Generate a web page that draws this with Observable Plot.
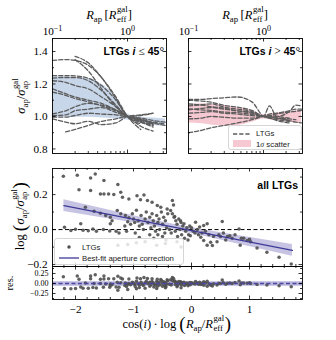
<!DOCTYPE html>
<html><head><meta charset="utf-8">
<script src="https://cdn.jsdelivr.net/npm/d3@7"></script>
<script src="https://cdn.jsdelivr.net/npm/@observablehq/plot@0.6"></script>
<style>
html,body{margin:0;padding:0;background:#fff}
#wrap{position:relative;width:336px;height:340px;overflow:hidden}
#wrap svg{position:absolute;overflow:visible}
.lab{position:absolute;white-space:nowrap;font-family:"Liberation Serif","DejaVu Serif",serif;font-size:12.5px;line-height:1;color:#000}
.lab sub{font-size:0.7em;vertical-align:-0.35em;line-height:1;font-style:normal}
.st{display:inline-block;font-size:0.7em;line-height:1.15;vertical-align:-0.35em;margin-left:0.5px;font-style:normal}
.st span{display:block}
.bp{font-size:1.5em;vertical-align:-0.1em;line-height:1;margin:0 0.5px}
.rot{transform:translate(-50%,-50%) rotate(-90deg)}
.ctr{transform:translate(-50%,0)}
.ann{position:absolute;white-space:nowrap;font-family:"Liberation Sans",Arial,sans-serif;font-weight:bold;font-size:10.5px;line-height:1;text-align:right}
.ann .m{font-family:"Liberation Serif",serif;font-weight:normal;font-size:1.1em}
.leg{position:absolute;background:rgba(255,255,255,0.82);border:1px solid #d6d6d6;border-radius:3px;font-family:"Liberation Sans",Arial,sans-serif;font-size:7.8px;color:#222}
.leg .row{position:absolute;left:0;white-space:nowrap}
</style></head><body><div id="wrap"></div>
<script>
// ---------- data ----------
// top panels: aperture radius grid (R_ap / R_eff)
const rGridLow = [0.1, 0.15, 0.2, 0.3, 0.45, 0.7, 1.0, 1.5, 2.2, 3.2];
const lowIncLines = [
  [1.345, 1.35, 1.345, 1.315, 1.24, 1.11, 1.0, 0.955, null, null],
  [null, null, 1.37, 1.33, 1.24, 1.12, 1.0, 0.92, null, null],
  [null, null, 1.35, 1.28, 1.17, 1.06, 1.0, 0.94, 0.91, null],
  [1.252, 1.252, 1.25, 1.235, 1.19, 1.10, 1.0, 0.965, 0.945, null],
  [1.236, 1.24, 1.24, 1.22, 1.16, 1.07, 1.0, 0.985, 0.96, 0.945],
  [1.22, 1.21, 1.19, 1.17, 1.12, 1.06, 1.0, 0.965, 0.935, null],
  [1.17, 1.14, 1.12, 1.10, 1.08, 1.04, 1.0, 0.975, 0.96, null],
  [1.15, 1.13, 1.11, 1.09, 1.065, 1.035, 1.0, 0.98, 0.965, 0.955],
  [1.016, 1.035, 1.06, 1.08, 1.07, 1.04, 1.0, 0.97, 0.95, null],
  [1.006, 1.01, 1.035, 1.045, 1.055, 1.025, 1.0, 0.99, 0.975, 0.965],
  [0.996, 0.996, 1.006, 1.02, 1.015, 1.01, 1.0, 1.006, 1.02, null],
  [null, 0.905, 0.92, 0.945, 0.97, 0.985, 1.0, 0.98, 0.955, null],
  [0.985, 0.965, 0.955, 0.97, 0.95, 0.96, 1.0, 1.01, 1.02, null]
];
const lowIncBandLo = [0.995, 0.995, 0.995, 0.995, 0.99, 0.985, 0.978, 0.958, 0.945, 0.94];
const lowIncBandHi = [1.245, 1.245, 1.24, 1.235, 1.2, 1.12, 1.015, 0.995, 0.99, 0.985];

const rGridHigh = [0.1, 0.15, 0.2, 0.3, 0.45, 0.7, 1.0, 1.2, 1.5, 2.2, 2.7, 3.2];
const highIncLines = [
  [1.105, 1.105, 1.11, 1.115, 1.12, 1.09, 1.0, 0.99, 0.975, 0.96, null, null],
  [1.10, 1.095, 1.088, 1.068, 1.057, 1.037, 1.0, 0.995, 0.99, 0.975, null, null],
  [1.078, 1.072, 1.078, 1.057, 1.045, 1.03, 1.0, 1.005, 1.016, 1.027, 1.032, 1.037],
  [1.047, 1.04, 1.037, 1.027, 1.024, 1.012, 1.0, 1.065, 1.0, 1.03, 1.07, 1.065],
  [1.065, 1.07, 1.06, 1.05, 1.035, 1.02, 1.0, 0.99, 0.98, 0.97, null, null],
  [1.02, 1.025, 1.03, 1.02, 1.015, 1.005, 1.0, 0.995, 0.99, 0.985, 0.98, null],
  [0.90, 0.915, 0.93, 0.945, 0.96, 0.98, 1.0, 1.005, 1.0, 0.99, null, null],
  [0.985, 0.99, 1.0, 0.995, 0.99, 0.99, 1.0, 1.0, 0.99, 0.975, 0.965, 0.96],
  [1.04, 1.05, 1.055, 1.045, 1.035, 1.025, 1.0, 1.015, 1.02, 1.035, 1.045, 1.045]
];
const highIncBandLo = [0.96, 0.955, 0.948, 0.942, 0.945, 0.965, 0.985, 0.98, 0.975, 0.965, 0.962, 0.96];
const highIncBandHi = [1.075, 1.078, 1.075, 1.068, 1.055, 1.035, 1.01, 1.015, 1.02, 1.03, 1.035, 1.037];

// middle panel: cos(i) log(R_ap/R_eff) vs log(sigma_ap/sigma_gal)
const ptsX = [-2.21,-2.19,-2.08,-2.00,-1.97,-1.94,-1.91,-1.87,-1.83,-1.78,-1.74,-1.74,-1.70,-1.68,-1.66,-1.64,-1.57,-1.57,-1.52,-1.51,-1.51,-1.48,-1.43,-1.41,-1.40,-1.40,-1.37,-1.34,-1.30,-1.28,-1.27,-1.27,-1.25,-1.22,-1.22,-1.19,-1.15,-1.14,-1.12,-1.10,-1.10,-1.08,-1.08,-1.05,-1.02,-1.00,-0.98,-0.97,-0.95,-0.95,-0.94,-0.92,-0.90,-0.90,-0.88,-0.87,-0.85,-0.83,-0.82,-0.80,-0.80,-0.78,-0.76,-0.75,-0.72,-0.72,-0.70,-0.68,-0.68,-0.66,-0.65,-0.64,-0.62,-0.60,-0.60,-0.59,-0.58,-0.58,-0.56,-0.55,-0.53,-0.52,-0.50,-0.50,-0.48,-0.46,-0.45,-0.45,-0.44,-0.43,-0.42,-0.41,-0.38,-0.36,-0.35,-0.33,-0.33,-0.31,-0.29,-0.30,-0.28,-0.27,-0.25,-0.25,-0.24,-0.22,-0.20,-0.19,-0.18,-0.18,-0.17,-0.15,-0.13,-0.12,-0.10,-0.08,-0.06,-0.05,-0.03,-0.02,0.00,0.03,0.06,0.07,0.10,0.12,0.14,0.16,0.18,0.21,0.21,0.24,0.27,0.27,0.30,0.33,0.36,0.38,0.44,0.47,0.50,0.53,0.55,0.59,0.62,0.66,0.70,0.75,0.82,0.84,0.86,0.90,0.96,1.00,1.02,1.13,1.30,1.51,1.72];
const ptsY = [0.305,0.014,-0.005,0.002,0.310,0.227,0.033,-0.004,0.127,-0.006,0.295,0.223,0.004,0.105,0.318,-0.010,0.204,0.093,0.000,0.280,0.204,0.080,0.204,-0.008,0.070,0.033,0.051,0.200,-0.010,0.109,0.257,-0.090,-0.020,0.090,0.213,0.185,0.020,0.080,-0.010,0.045,-0.085,0.175,0.067,0.030,0.090,0.060,0.040,-0.020,0.110,-0.075,0.194,0.050,0.020,-0.045,0.170,0.080,0.030,0.000,0.198,0.060,-0.070,0.100,0.166,0.040,0.070,-0.030,0.010,0.156,0.090,0.050,-0.050,0.020,-0.010,0.080,-0.090,0.137,0.040,-0.030,0.060,0.000,0.127,0.100,0.030,-0.040,0.070,-0.020,0.050,-0.080,-0.060,0.010,0.118,0.090,0.000,0.109,-0.020,0.166,0.090,0.140,0.075,0.070,-0.010,0.050,0.030,-0.070,-0.040,0.060,0.000,0.050,0.040,-0.100,-0.030,0.020,0.033,-0.050,-0.010,0.010,-0.060,-0.030,0.020,-0.035,0.010,-0.010,-0.020,0.042,0.000,-0.030,0.015,-0.044,-0.020,0.023,-0.063,-0.010,0.033,-0.090,-0.030,-0.073,-0.091,-0.040,-0.070,-0.030,-0.040,0.046,-0.020,-0.060,-0.040,-0.035,-0.050,-0.030,0.004,-0.090,-0.050,-0.050,-0.063,-0.055,-0.070,-0.105,-0.130,-0.158,-0.196];
// best-fit aperture correction (end points) and its band
const fitX = [-2.2, 1.74];
const fitY = [0.137, -0.119];
const bandX  = [-2.2, -1.6, -1.0, -0.4, 0.2, 0.8, 1.74];
const bandLo = [0.103, 0.071, 0.039, 0.004, -0.037, -0.082, -0.153];
const bandHi = [0.171, 0.125, 0.079, 0.036, -0.001, -0.034, -0.085];

// ticks
const rMajor = [0.1, 1];
const rMinor = [0.2,0.3,0.4,0.5,0.6,0.7,0.8,0.9,2,3];
const sigMajor = [0.8, 1.0, 1.2, 1.4];
const sigMinor = [0.9, 1.1, 1.3];
const cMajor = [-2, -1, 0, 1];
const cMinor = [-2.2,-1.8,-1.6,-1.4,-1.2,-0.8,-0.6,-0.4,-0.2,0.2,0.4,0.6,0.8,1.2,1.4,1.6,1.8];
const lMajor = [-0.2, 0.0, 0.2];
const lMinor = [-0.1, 0.1, 0.3];
const resMajor = [-0.25, 0, 0.25];
const resMinor = [-0.375, -0.125, 0.125, 0.375];

// ---------- helpers ----------
const W = document.getElementById("wrap");
const serif = "'Liberation Serif','DejaVu Serif',serif";
const baseStyle = {background: "transparent", fontFamily: serif, fontSize: "11.2px", color: "#000", overflow: "visible"};
function place(svg, left, top) { svg.style.left = left + "px"; svg.style.top = top + "px"; W.appendChild(svg); return svg; }
function edgeTicks(o) {
  const [x0, x1] = o.xDomain, [y0, y1] = o.yDomain;
  const yOff = (b, l, d) => b + d * l * (y1 - y0) / o.h;
  const xOff = o.xLog
    ? (b, l, d) => b * Math.pow(10, d * l * (Math.log10(x1) - Math.log10(x0)) / o.w)
    : (b, l, d) => b + d * l * (x1 - x0) / o.w;
  const st = {stroke: "#000", strokeWidth: 0.8};
  const m = [];
  for (const [vals, l] of [[o.xMajor, 3.5], [o.xMinor, 2]]) {
    m.push(Plot.ruleX(vals, {x: d => d, y1: y0, y2: yOff(y0, l, 1), ...st}));
    m.push(Plot.ruleX(vals, {x: d => d, y1: y1, y2: yOff(y1, l, -1), ...st}));
  }
  for (const [vals, l] of [[o.yMajor, 3.5], [o.yMinor, 2]]) {
    m.push(Plot.ruleY(vals, {y: d => d, x1: x0, x2: xOff(x0, l, 1), ...st}));
    m.push(Plot.ruleY(vals, {y: d => d, x1: x1, x2: xOff(x1, l, -1), ...st}));
  }
  return m;
}
function lineData(grid, lines) {
  const out = [];
  lines.forEach((vals, i) => vals.forEach((v, j) => { if (v != null) out.push({id: i, r: grid[j], s: v}); }));
  return out;
}
const logFmt = d => "10^" + Math.round(Math.log10(d));
const frame = Plot.frame({stroke: "#000", strokeWidth: 0.9});

// ---------- top panels ----------
const xTopDom = [0.1, 3.31], yTopDom = [0.772, 1.48];
function topPanel(grid, lines, lo, hi, fill, left, mL, mR, showY) {
  const band = grid.map((r, i) => ({r, lo: lo[i], hi: hi[i]}));
  return place(Plot.plot({
    width: mL + 114 + mR, height: 160, marginLeft: mL, marginRight: mR, marginTop: 38, marginBottom: 7,
    style: baseStyle,
    x: {type: "log", domain: xTopDom, axis: "top", ticks: rMajor, tickFormat: logFmt, tickSize: 0, tickPadding: 4, label: null},
    y: showY ? {domain: yTopDom, ticks: sigMajor, tickFormat: d3.format(".1f"), tickSize: 0, tickPadding: 5, label: null}
             : {domain: yTopDom, axis: null},
    marks: [
      Plot.areaY(band, {x: "r", y1: "lo", y2: "hi", fill, curve: "monotone-x"}),
      Plot.line(lineData(grid, lines), {x: "r", y: "s", z: "id", stroke: "#5c5c5c", strokeWidth: 1.3, strokeDasharray: "4.2,2", curve: "monotone-x"}),
      frame,
      ...edgeTicks({xDomain: xTopDom, yDomain: yTopDom, w: 114, h: 115, xLog: true, xMajor: rMajor, xMinor: rMinor, yMajor: sigMajor, yMinor: sigMinor})
    ]
  }), left, 0);
}
topPanel(rGridLow, lowIncLines, lowIncBandLo, lowIncBandHi, "#c8d6e9", 0, 52, 4, true);
topPanel(rGridHigh, highIncLines, highIncBandLo, highIncBandHi, "#f6c8d1", 170, 18, 34, false);

// ---------- middle panel ----------
const xMidDom = [-2.397, 1.914], yMidDom = [-0.211, 0.349];
const pts = ptsX.map((x, i) => ({x, y: ptsY[i]}));
const fitLine = fitX.map((x, i) => ({x, y: fitY[i]}));
const band = bandX.map((x, i) => ({x, lo: bandLo[i], hi: bandHi[i]}));
place(Plot.plot({
  width: 336, height: 107, marginLeft: 52, marginRight: 34, marginTop: 8, marginBottom: 1,
  style: baseStyle,
  x: {domain: xMidDom, axis: null},
  y: {domain: yMidDom, ticks: lMajor, tickFormat: d3.format(".1f"), tickSize: 0, tickPadding: 5, label: null},
  marks: [
    Plot.areaY(band, {x: "x", y1: "lo", y2: "hi", fill: "#bcb8de", fillOpacity: 0.85}),
    Plot.ruleY([0], {stroke: "#000", strokeWidth: 1, strokeDasharray: "4,2.5"}),
    Plot.dot(pts, {x: "x", y: "y", r: 1.75, fill: "#4f4f4f", fillOpacity: 0.9}),
    Plot.line(fitLine, {x: "x", y: "y", stroke: "#3d3a96", strokeWidth: 1.3}),
    frame,
    ...edgeTicks({xDomain: xMidDom, yDomain: yMidDom, w: 250, h: 98, xLog: false, xMajor: cMajor, xMinor: cMinor, yMajor: lMajor, yMinor: lMinor})
  ]
}), 0, 160);

// ---------- residual panel ----------
const fitScale = d3.scaleLinear().domain(fitX).range(fitY);
const res = pts.map(p => ({x: p.x, r: p.y - fitScale(p.x)}));
const yResDom = [-0.4, 0.425];
place(Plot.plot({
  width: 336, height: 80, marginLeft: 52, marginRight: 34, marginTop: 6, marginBottom: 41,
  style: baseStyle,
  x: {domain: xMidDom, ticks: cMajor, tickFormat: d3.format("d"), tickSize: 0, tickPadding: 6, label: null},
  y: {domain: yResDom, ticks: resMajor, tickFormat: d3.format(".2f"), tickSize: 0, tickPadding: 4, label: null},
  marks: [
    Plot.ruleY([0], {stroke: "#bcb8de", strokeWidth: 4.5}),
    Plot.dot(res, {x: "x", y: "r", r: 1.75, fill: "#4f4f4f", fillOpacity: 0.9}),
    Plot.ruleY([0], {stroke: "#4a47a3", strokeWidth: 1.5, strokeDasharray: "4,2.5"}),
    frame,
    ...edgeTicks({xDomain: xMidDom, yDomain: yResDom, w: 250, h: 33, xLog: false, xMajor: cMajor, xMinor: cMinor, yMajor: resMajor, yMinor: resMinor})
  ]
}), 0, 260);

// ---------- post-process tick labels ----------
d3.select(W).selectAll("svg text").each(function () {
  const t = this.textContent;
  const m = /^10\^(-?\d+)$/.exec(t);
  if (m) {
    const s = d3.select(this);
    s.text("10");
    s.append("tspan").attr("dy", "-0.45em").attr("font-size", "0.72em").text(m[1].replace("-", "\u2212"));
  } else if (/^[\u2212-]?0\.\d\d$/.test(t)) {
    d3.select(this).attr("font-size", "8px");
  }
});

// ---------- labels (math text) ----------
function addHTML(cls, html, css) {
  const d = document.createElement("div");
  d.className = cls; d.innerHTML = html; Object.assign(d.style, css); W.appendChild(d); return d;
}
const st = (a, b) => `<span class="st"><span>${a}</span><span>${b}</span></span>`;
const rLab = `<i>R</i><sub>ap</sub>&#8201;[<i>R</i>${st("gal", "eff")}]`;
addHTML("lab ctr", rLab, {left: "109px", top: "4px"});
addHTML("lab ctr", rLab, {left: "245px", top: "4px"});
addHTML("lab rot", `<i>σ</i><sub>ap</sub>/<i>σ</i>${st("gal", "ap")}`, {left: "20px", top: "96px"});
addHTML("lab rot", `log&#8201;<span class="bp">(</span><i>σ</i><sub>ap</sub>/<i>σ</i>${st("gal", "ap")}<span class="bp">)</span>`, {left: "19px", top: "216px"});
addHTML("lab rot", `res.`, {left: "10px", top: "283px", fontSize: "10.5px"});
addHTML("lab ctr", `cos(<i>i</i>)&#8201;·&#8201;log&#8201;<span class="bp">(</span><i>R</i><sub>ap</sub>/<i>R</i>${st("gal", "eff")}<span class="bp">)</span>`, {left: "177px", top: "313px"});

// annotations
addHTML("ann", `LTGs <i>i</i> <span class="m">≤</span> 45<span class="m">°</span>`, {right: (336 - 164) + "px", top: "46px"});
addHTML("ann", `LTGs <i>i</i> <span class="m">&gt;</span> 45<span class="m">°</span>`, {right: (336 - 300) + "px", top: "46px"});
addHTML("ann", `all LTGs`, {right: (336 - 298) + "px", top: "180px"});

// legends
addHTML("leg", `
  <svg width="20" height="6" style="position:absolute;left:3px;top:5px"><line x1="1" y1="3" x2="19" y2="3" stroke="#5c5c5c" stroke-width="1.3" stroke-dasharray="4.2,2"/></svg>
  <span class="row" style="left:27px;top:3px">LTGs</span>
  <svg width="20" height="8" style="position:absolute;left:3px;top:14px"><rect x="1" y="0" width="18" height="7" fill="#f6c8d1"/></svg>
  <span class="row" style="left:27px;top:13.5px">1<i style="font-family:'Liberation Serif',serif">σ</i> scatter</span>`,
  {left: "228px", top: "125px", width: "72px", height: "23px"});
addHTML("leg", `
  <svg width="20" height="6" style="position:absolute;left:4px;top:5px"><circle cx="10" cy="3" r="1.75" fill="#4f4f4f"/></svg>
  <span class="row" style="left:27px;top:3.5px">LTGs</span>
  <svg width="22" height="6" style="position:absolute;left:3px;top:16px"><line x1="1" y1="3" x2="21" y2="3" stroke="#3d3a96" stroke-width="1.3"/></svg>
  <span class="row" style="left:27px;top:15px">Best-fit aperture correction</span>`,
  {left: "54px", top: "238px", width: "128px", height: "25px"});
</script></body></html>
